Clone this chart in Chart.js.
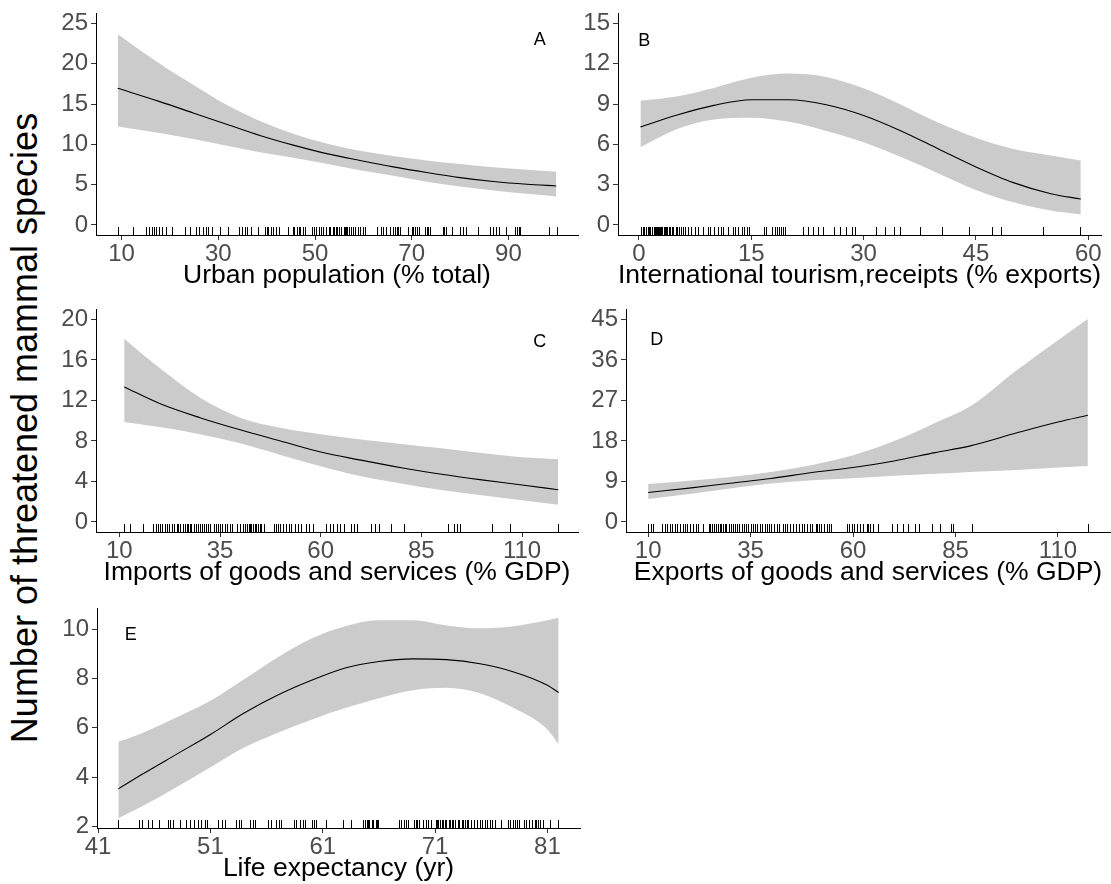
<!DOCTYPE html>
<html><head><meta charset="utf-8">
<script src="https://cdn.jsdelivr.net/npm/chart.js@4.4.1/dist/chart.umd.min.js"></script>
<style>
html,body{margin:0;padding:0;background:#fff;}
#wrap{position:relative;width:1111px;height:884px;overflow:hidden;background:#fff;}
.panel{position:absolute;}
#ytitle{position:absolute;left:25px;top:428px;transform:translate(-50%,-50%) rotate(-90deg);font-family:'Liberation Sans',Arial,sans-serif;font-size:36px;line-height:1;white-space:nowrap;color:#000;}
</style></head><body>
<div id="wrap"><div id="ytitle">Number of threatened mammal species</div></div>
<script>
// ---------- DATA ----------
// Panel A: Urban population (% total)
const aX     = [9.2, 17.9, 24.8, 31.7, 38.6, 45.5, 52.4, 59.3, 66.2, 73.1, 80, 86.9, 93.8, 99.9];
const aFit   = [16.95, 15.3, 13.9, 12.5, 11.1, 9.9, 8.85, 8.0, 7.2, 6.5, 5.87, 5.38, 5.04, 4.84];
const aUpper = [23.66, 20.0, 17.4, 14.9, 12.9, 11.3, 10.1, 9.2, 8.55, 8.0, 7.55, 7.15, 6.85, 6.6];
const aLower = [12.2, 11.4, 10.65, 9.84, 9.02, 8.33, 7.6, 6.8, 6.1, 5.37, 4.76, 4.27, 3.86, 3.54];
const aRug = [9.3,12.3,15.0,15.7,16.2,16.8,17.2,17.8,18.3,19.2,20.5,23.2,24.1,25.4,26.1,26.8,27.4,27.9,28.6,30.3,32.1,34.3,34.8,35.5,36.0,36.7,38.3,39.7,40.0,40.3,40.8,41.4,41.9,42.5,44.5,45.4,45.7,46.2,46.6,47.0,47.6,47.9,49.4,49.8,50.3,50.9,51.2,51.6,52.2,52.8,53.2,53.7,53.9,54.3,54.6,55.0,55.4,55.9,56.2,56.4,56.7,57.1,57.4,57.9,58.3,58.8,59.3,59.9,60.3,62.8,63.6,64.0,64.7,65.5,66.2,66.6,66.9,67.2,67.6,69.3,70.0,70.3,70.7,71.2,71.6,72.8,73.1,73.4,73.8,76.4,76.7,77.1,78.3,80.0,80.6,81.2,83.8,86.2,86.9,87.4,88.1,89.5,91.4,91.7,92.1,92.4,98.3,100.0];
const aXTicks = [10, 30, 50, 70, 90];
const aYTicks = [0, 5, 10, 15, 20, 25];

// Panel B: International tourism, receipts (% exports)
const bX     = [0.2, 5, 10, 15, 20, 25, 30, 35, 40, 45, 50, 55, 59];
const bFit   = [7.3, 8.17, 8.9, 9.32, 9.32, 8.95, 8.15, 7.0, 5.66, 4.32, 3.15, 2.32, 1.93];
const bUpper = [9.24, 9.56, 10.2, 10.95, 11.27, 11.02, 10.17, 8.95, 7.6, 6.5, 5.66, 5.17, 4.8];
const bLower = [5.78, 7.12, 7.85, 7.98, 7.68, 7.0, 6.15, 5.05, 3.83, 2.6, 1.68, 1.07, 0.78];
const bRug = [0.3,0.5,0.7,0.9,1.0,1.2,1.4,1.5,1.7,1.8,2.0,2.1,2.3,2.4,2.5,2.7,2.8,3.0,3.1,3.3,3.5,3.6,3.8,4.0,4.2,4.4,4.6,4.9,5.1,5.4,5.6,5.9,6.2,6.5,7.0,7.5,7.9,8.6,9.2,9.5,10.0,10.6,11.0,11.2,11.9,12.5,12.8,13.2,13.7,14.0,14.4,14.7,16.7,17.0,17.7,18.1,18.4,18.7,19.0,19.2,19.5,21.9,22.6,23.3,23.9,24.6,26.1,26.8,27.7,28.4,28.8,31.7,32.8,34.0,34.9,37.5,40.5,44.1,47.2,48.4,54.0,58.9];
const bXTicks = [0, 15, 30, 45, 60];
const bYTicks = [0, 3, 6, 9, 12, 15];

// Panel C: Imports of goods and services (% GDP)
const cX     = [11.2, 20, 30, 40, 50, 60, 70, 80, 90, 100, 110, 119];
const cFit   = [13.34, 11.7, 10.3, 9.1, 8.0, 6.9, 6.1, 5.35, 4.7, 4.15, 3.65, 3.18];
const cUpper = [18.1, 15.2, 12.3, 10.3, 9.3, 8.67, 8.15, 7.7, 7.27, 6.8, 6.4, 6.2];
const cLower = [9.87, 9.38, 8.67, 7.76, 6.62, 5.49, 4.5, 3.8, 3.15, 2.63, 2.14, 1.69];
const cRug = [11.2,12.6,15.8,18.4,19.0,19.5,20.1,20.7,21.3,21.9,22.4,23.0,23.6,24.2,24.6,25.0,25.7,26.3,26.7,27.1,27.5,27.9,28.5,29.0,29.6,30.0,30.4,31.0,31.5,32.1,32.6,33.5,34.0,34.5,35.1,35.6,36.2,36.8,37.4,37.9,39.3,39.9,40.6,41.2,41.7,42.1,42.4,42.8,43.2,43.6,44.0,44.5,44.9,45.3,45.9,48.3,49.0,49.4,50.0,50.7,51.3,52.1,52.7,53.6,54.4,55.2,56.4,57.1,58.1,61.4,62.4,63.1,64.0,64.7,65.7,67.6,68.2,69.0,72.6,73.4,74.5,77.4,80.7,91.6,93.2,93.8,94.5,102.6,107.1,119.0];
const cXTicks = [10, 35, 60, 85, 110];
const cYTicks = [0, 4, 8, 12, 16, 20];

// Panel D: Exports of goods and services (% GDP)
const dX     = [10, 20, 30, 40, 50, 60, 70, 80, 88.6, 100, 110, 117.3];
const dFit   = [6.55, 7.5, 8.6, 9.65, 10.97, 12.08, 13.55, 15.4, 16.9, 19.8, 22.2, 23.7];
const dUpper = [8.4, 9.13, 10.0, 11.1, 12.67, 14.8, 17.97, 22.0, 25.7, 33.8, 40.4, 45.1];
const dLower = [5.08, 6.19, 7.44, 8.54, 9.28, 9.72, 10.24, 10.68, 11.1, 11.56, 12.08, 12.44];
const dRug = [10.0,10.6,11.2,13.5,14.1,14.6,15.3,15.9,16.5,17.1,17.7,18.4,19.0,19.5,20.3,21.0,21.6,22.2,23.4,24.9,25.2,25.7,26.0,26.5,27.1,27.5,27.9,28.3,28.7,29.1,29.8,30.1,30.6,31.2,31.6,32.2,32.8,33.4,33.9,34.4,35.0,35.7,36.1,36.6,37.3,37.9,38.5,39.1,39.6,40.1,40.7,41.4,42.0,42.8,43.4,44.0,44.6,45.4,46.1,46.9,47.5,48.0,48.7,49.5,50.1,51.0,51.3,51.8,52.3,52.9,53.6,54.2,54.5,58.5,59.1,59.7,60.2,60.9,61.7,62.4,63.3,63.7,64.2,64.8,66.2,69.4,70.7,72.1,73.5,75.1,76.0,79.2,81.1,83.9,84.3,89.0,117.3];
const dXTicks = [10, 35, 60, 85, 110];
const dYTicks = [0, 9, 18, 27, 36, 45];

// Panel E: Life expectancy (yr)
const eX     = [42.8, 45, 48, 51, 54, 57, 60, 63, 66, 69, 72, 75, 78, 81, 82];
const eFit   = [3.52, 4.13, 4.93, 5.73, 6.6, 7.33, 7.93, 8.43, 8.69, 8.8, 8.77, 8.6, 8.27, 7.73, 7.43];
const eUpper = [5.43, 5.8, 6.43, 7.1, 7.97, 8.87, 9.63, 10.13, 10.37, 10.37, 10.16, 10.04, 10.13, 10.37, 10.47];
const eLower = [2.33, 2.83, 3.6, 4.4, 5.2, 5.8, 6.33, 6.8, 7.2, 7.53, 7.63, 7.4, 6.8, 5.93, 5.33];
const eRug = [42.8,44.6,44.9,45.4,45.8,46.4,47.2,47.4,47.7,48.3,48.8,49.2,49.5,49.9,50.2,50.5,50.7,51.7,52.0,52.3,53.3,53.5,53.7,54.5,54.8,55.0,56.1,56.4,56.8,57.1,57.3,58.4,58.6,59.0,59.2,59.4,60.0,60.2,60.4,61.3,62.8,63.5,64.6,64.8,64.9,65.0,65.1,65.4,65.5,65.7,65.8,65.9,67.8,68.0,68.2,68.4,68.6,69.1,69.3,69.4,69.6,69.9,70.2,70.4,70.6,71.1,71.2,71.3,71.4,71.6,71.7,71.9,72.0,72.2,72.3,72.5,72.6,72.8,73.0,73.1,73.4,73.5,73.7,73.8,73.9,74.2,74.5,74.7,75.0,75.2,75.4,75.6,75.9,76.1,76.3,76.9,77.5,77.7,77.9,78.1,78.3,78.5,78.9,79.1,79.4,79.6,79.9,80.0,80.2,80.3,80.6,81.2,81.9];
const eXTicks = [41, 51, 61, 71, 81];
const eYTicks = [2, 4, 6, 8, 10];

// ---------- PANEL SETUP (layout / style) ----------
const FONT = "'Liberation Sans', Arial, sans-serif";
const YW = 52, XH = 57, PT = 16;

const panels = [
  {id:'A', title:'Urban population (% total)', x:aX, fit:aFit, up:aUpper, lo:aLower, rug:aRug, xt:aXTicks, yt:aYTicks,
   xmin:4.7, xmax:104.4, ymin:-1.25, ymax:26.25, box:{l:96, t:12, r:578, b:235, pr:8}, letter:{x:96.5, y:22.95}},
  {id:'B', title:'International tourism,receipts (% exports)', x:bX, fit:bFit, up:bUpper, lo:bLower, rug:bRug, xt:bXTicks, yt:bYTicks,
   xmin:-2.8, xmax:61.7, ymin:-0.75, ymax:15.75, box:{l:618, t:12, r:1101, b:235, pr:8}, letter:{x:0.7, y:13.7}},
  {id:'C', title:'Imports of goods and services (% GDP)', x:cX, fit:cFit, up:cUpper, lo:cLower, rug:cRug, xt:cXTicks, yt:cYTicks,
   xmin:4.2, xmax:123.9, ymin:-1, ymax:21, box:{l:96, t:308, r:578, b:532, pr:8}, letter:{x:114.4, y:17.8}},
  {id:'D', title:'Exports of goods and services (% GDP)', x:dX, fit:dFit, up:dUpper, lo:dLower, rug:dRug, xt:dXTicks, yt:dYTicks,
   xmin:4.6, xmax:122.7, ymin:-2.25, ymax:47.25, box:{l:626, t:308, r:1110, b:532, pr:1}, letter:{x:12.1, y:40.4}},
  {id:'E', title:'Life expectancy (yr)', x:eX, fit:eFit, up:eUpper, lo:eLower, rug:eRug, xt:eXTicks, yt:eYTicks,
   xmin:40.9, xmax:83.9, ymin:1.93, ymax:10.85, box:{l:97, t:607, r:580, b:828, pr:8}, letter:{x:43.9, y:9.77}}
];

function rugPlugin(values){
  return {id:'rug', afterDatasetsDraw(chart){
    const {ctx, chartArea, scales} = chart;
    const xs = scales.x;
    ctx.save();
    ctx.strokeStyle = '#000'; ctx.lineWidth = 1;
    values.forEach(v => {
      const px = Math.round(xs.getPixelForValue(v)) + 0.5;
      ctx.beginPath();
      ctx.moveTo(px, chartArea.bottom);
      ctx.lineTo(px, chartArea.bottom - 8);
      ctx.stroke();
    });
    ctx.restore();
  }};
}
function letterPlugin(text, pos){
  return {id:'letter', afterDatasetsDraw(chart){
    const {ctx, scales} = chart;
    ctx.save();
    ctx.font = "18px " + FONT;
    ctx.fillStyle = '#000';
    ctx.textAlign = 'center'; ctx.textBaseline = 'middle';
    ctx.fillText(text, scales.x.getPixelForValue(pos.x), scales.y.getPixelForValue(pos.y));
    ctx.restore();
  }};
}

const wrap = document.getElementById('wrap');
panels.forEach(p => {
  const left = p.box.l - YW, top = p.box.t - PT;
  const w = p.box.r - left + p.box.pr, h = p.box.b - top + XH;
  const div = document.createElement('div');
  div.className = 'panel';
  div.style.left = left + 'px'; div.style.top = top + 'px';
  div.style.width = w + 'px'; div.style.height = h + 'px';
  const cv = document.createElement('canvas');
  cv.width = w; cv.height = h;
  cv.style.width = w + 'px'; cv.style.height = h + 'px';
  div.appendChild(cv); wrap.appendChild(div);

  const pts = arr => p.x.map((xv, i) => ({x: xv, y: arr[i]}));
  new Chart(cv, {
    type: 'line',
    data: { datasets: [
      {data: pts(p.fit), borderColor:'#000', borderWidth:1.1, pointRadius:0, fill:false, cubicInterpolationMode:'monotone'},
      {data: pts(p.up), borderColor:'rgba(0,0,0,0)', borderWidth:1, pointRadius:0, fill:'+1', backgroundColor:'#cbcbcb', cubicInterpolationMode:'monotone'},
      {data: pts(p.lo), borderColor:'rgba(0,0,0,0)', borderWidth:1, pointRadius:0, fill:false, cubicInterpolationMode:'monotone'}
    ]},
    options: {
      responsive:false, animation:false, events:[],
      layout:{padding:{left:0, top:PT, right:p.box.pr, bottom:0}},
      plugins:{legend:{display:false}, tooltip:{enabled:false}},
      scales:{
        x:{type:'linear', position:'bottom', min:p.xmin, max:p.xmax,
          afterBuildTicks: s => { s.ticks = p.xt.map(v => ({value:v})); },
          afterFit: s => { s.height = XH; },
          grid:{display:true, drawOnChartArea:false, drawTicks:true, tickLength:5, color:'#333', lineWidth:1},
          border:{display:true, color:'#000', width:1},
          ticks:{color:'#4d4d4d', font:{size:24, family:FONT}, padding:0, maxRotation:0, autoSkip:false},
          title:{display:true, text:p.title, color:'#000', font:{size:26.5, family:FONT}, padding:{top:0, bottom:0}}
        },
        y:{type:'linear', position:'left', min:p.ymin, max:p.ymax,
          afterBuildTicks: s => { s.ticks = p.yt.map(v => ({value:v})); },
          afterFit: s => { s.width = YW; },
          grid:{display:true, drawOnChartArea:false, drawTicks:true, tickLength:5, color:'#333', lineWidth:1},
          border:{display:true, color:'#000', width:1},
          ticks:{color:'#4d4d4d', font:{size:24, family:FONT}, padding:3, autoSkip:false}
        }
      }
    },
    plugins:[rugPlugin(p.rug), letterPlugin(p.id, p.letter)]
  });
});
</script>
</body></html>
